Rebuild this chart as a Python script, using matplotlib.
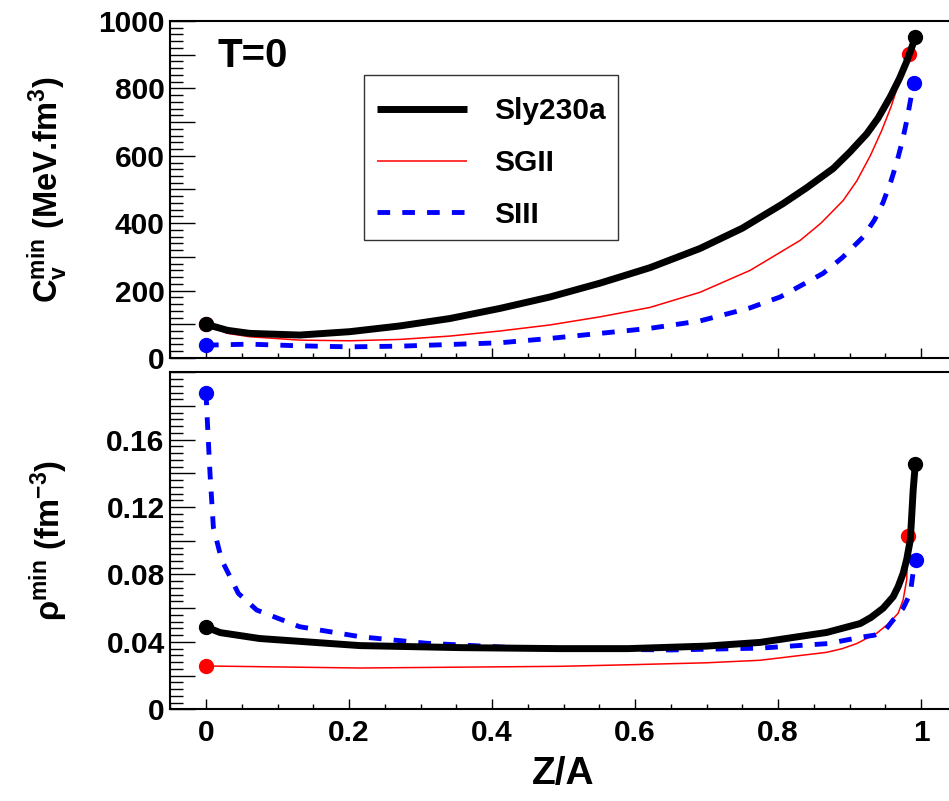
# -*- coding: utf-8 -*-
"""T=0 : C_v^min 과 rho^min 을 Z/A 에 대해 그린 두 단 그림 (Sly230a / SGII / SIII)."""
import matplotlib
matplotlib.use("Agg")
import matplotlib.pyplot as plt
from matplotlib.patches import Rectangle
from matplotlib.ticker import MultipleLocator, FuncFormatter

plt.rcParams["font.family"] = ["Liberation Sans", "DejaVu Sans"]
plt.rcParams["font.weight"] = "bold"
plt.rcParams["mathtext.fontset"] = "custom"
plt.rcParams["mathtext.rm"] = "Liberation Sans"
plt.rcParams["mathtext.it"] = "Liberation Sans:bold"
plt.rcParams["mathtext.bf"] = "Liberation Sans:bold"

# ---- 위 패널: C_v^min (MeV.fm^3) ----
cv_x_sly = [0.0, 0.03, 0.061, 0.131, 0.201, 0.271, 0.341, 0.411, 0.481, 0.551,
            0.621, 0.691, 0.75, 0.807, 0.84, 0.877, 0.90, 0.924, 0.94, 0.957,
            0.97, 0.98, 0.992]
cv_sly = [100, 82, 73, 68, 78, 95, 117, 147, 181, 222,
          268, 325, 385, 458, 505, 562, 610, 665, 712, 775,
          830, 880, 951]

cv_x_sgii = [0.0, 0.03, 0.061, 0.131, 0.201, 0.271, 0.341, 0.411, 0.481, 0.551,
             0.621, 0.691, 0.761, 0.831, 0.86, 0.891, 0.91, 0.929, 0.945, 0.958,
             0.971, 0.983]
cv_sgii = [100, 73, 63, 53, 51, 55, 65, 80, 98, 122,
           150, 195, 260, 349, 400, 467, 525, 600, 675, 745,
           830, 903]

cv_x_siii = [0.0, 0.061, 0.131, 0.201, 0.271, 0.341, 0.411, 0.481, 0.551, 0.621,
             0.691, 0.76, 0.803, 0.863, 0.89, 0.919, 0.935, 0.947, 0.958, 0.966,
             0.974, 0.980, 0.987, 0.990]
cv_siii = [38, 41, 36, 33, 35, 40, 45, 58, 73, 88,
           110, 148, 181, 251, 298, 359, 410, 462, 525, 580,
           645, 704, 785, 817]

# ---- 아래 패널: rho^min (fm^-3) ----
rho_x_sly = [0.0, 0.02, 0.075, 0.215, 0.355, 0.495, 0.59, 0.70, 0.775, 0.868,
             0.915, 0.93, 0.947, 0.961, 0.968, 0.975, 0.98, 0.985, 0.987, 0.989,
             0.992]
rho_sly = [0.0488, 0.0455, 0.0420, 0.0378, 0.0366, 0.0360, 0.0360, 0.0375, 0.0397, 0.0456,
           0.0509, 0.0545, 0.0600, 0.0668, 0.0728, 0.0807, 0.089, 0.1005, 0.115, 0.1300,
           0.1456]

rho_x_sgii = [0.0, 0.215, 0.495, 0.589, 0.70, 0.775, 0.868, 0.89, 0.91, 0.938,
              0.955, 0.968, 0.975, 0.98, 0.982]
rho_sgii = [0.0257, 0.0245, 0.0255, 0.0264, 0.0276, 0.0291, 0.0338, 0.036, 0.039, 0.0451,
            0.051, 0.057, 0.065, 0.077, 0.1028]

rho_x_siii = [0.0, 0.002, 0.0056, 0.0103, 0.0219, 0.0452, 0.0709, 0.131, 0.215, 0.308,
              0.42, 0.53, 0.65, 0.775, 0.87, 0.915, 0.935, 0.95, 0.961, 0.975,
              0.985, 0.99, 0.993]
rho_siii = [0.188, 0.170, 0.140, 0.108, 0.0886, 0.0688, 0.0589, 0.049, 0.0431, 0.0392,
            0.0368, 0.0358, 0.0352, 0.0363, 0.0390, 0.0427, 0.044, 0.047, 0.053, 0.060,
            0.0688, 0.0846, 0.0885]

names = ["Sly230a", "SGII", "SIII"]

figure = plt.figure(figsize=(9.49, 8.01), dpi=100)
ax_top = figure.add_axes([0.1794, 0.5531, 0.8288, 0.4207])
ax_bot = figure.add_axes([0.1794, 0.1145, 0.8288, 0.4207])

styles = {
    "Sly230a": dict(color="black", lw=5.0, ls="-", z=2.4),
    "SGII": dict(color="red", lw=1.1, ls="-", z=2.0),
    "SIII": dict(color="blue", lw=3.5, ls=(0, (2.6, 2.5)), z=2.2),
}

panels = [
    (ax_top, {"Sly230a": (cv_x_sly, cv_sly), "SGII": (cv_x_sgii, cv_sgii), "SIII": (cv_x_siii, cv_siii)}),
    (ax_bot, {"Sly230a": (rho_x_sly, rho_sly), "SGII": (rho_x_sgii, rho_sgii), "SIII": (rho_x_siii, rho_siii)}),
]

for axes, series in panels:
    for name in ["SGII", "SIII", "Sly230a"]:
        xs, ys = series[name]
        st = styles[name]
        axes.plot(xs, ys, color=st["color"], lw=st["lw"], ls=st["ls"],
                  dash_capstyle="butt", solid_capstyle="butt", solid_joinstyle="round",
                  zorder=st["z"], label=name)
        # 양 끝점 동그라미
        axes.plot([xs[0], xs[-1]], [ys[0], ys[-1]], ls="none", marker="o",
                  markersize=10, color=st["color"], zorder=st["z"] + 0.05)

    axes.set_xlim(-0.05, 1.05)
    axes.xaxis.set_major_locator(MultipleLocator(0.2))
    axes.xaxis.set_minor_locator(MultipleLocator(0.05))
    axes.xaxis.set_major_formatter(FuncFormatter(lambda v, p: f"{v:g}"))
    axes.tick_params(axis="x", which="major", direction="in", length=7, width=1,
                     labelsize=21.5, pad=7, top=False)
    axes.tick_params(axis="x", which="minor", direction="in", length=3.6, width=1, top=False)
    axes.tick_params(axis="y", which="major", direction="in", length=18, width=1,
                     labelsize=21.5, pad=4, right=False)
    axes.tick_params(axis="y", which="minor", direction="in", length=9, width=1, right=False)
    for spine in axes.spines.values():
        spine.set_linewidth(1.5)

# 위 패널 축
ax_top.set_ylim(0, 1000)
ax_top.yaxis.set_major_locator(MultipleLocator(100))
ax_top.yaxis.set_minor_locator(MultipleLocator(20))
ax_top.yaxis.set_major_formatter(
    FuncFormatter(lambda v, p: f"{v:g}" if round(v) % 200 == 0 else ""))
ax_top.tick_params(axis="x", labelbottom=False)
ax_top.set_ylabel(r"$\mathbf{C_{v}^{min}}$ (MeV.fm$^{\mathbf{3}}$)", fontsize=23.5,
                  fontweight="bold")
ax_top.yaxis.set_label_coords(-0.128, 0.5)

ax_top.text(0.0607, 0.8635, "T=0", transform=ax_top.transAxes,
            fontsize=29, fontweight="bold", va="baseline")

# 범례: 테두리는 따로 그려서 ROOT 범례 상자 크기에 맞춘다
handles, labels = ax_top.get_legend_handles_labels()
order = [labels.index(n) for n in names]
ax_top.legend([handles[i] for i in order], names,
              loc="upper left", bbox_to_anchor=(0.2463, 0.8131), borderaxespad=0,
              prop={"weight": "bold", "size": 21.5}, handlelength=3.0,
              handletextpad=0.9, borderpad=0.45, labelspacing=0.79, frameon=False)
ax_top.add_patch(Rectangle((0.2463, 0.3501), 0.3230, 0.4896, transform=ax_top.transAxes,
                           facecolor="none", edgecolor="#333333", lw=1.0, zorder=5))

# 아래 패널 축
ax_bot.set_ylim(0, 0.2)
ax_bot.yaxis.set_major_locator(MultipleLocator(0.02))
ax_bot.yaxis.set_minor_locator(MultipleLocator(0.004))
ax_bot.yaxis.set_major_formatter(
    FuncFormatter(lambda v, p: f"{v:g}" if round(v / 0.02) % 2 == 0 and v < 0.19 else ""))
ax_bot.set_ylabel(r"$\mathrm{\rho}^{\mathbf{min}}\ \mathbf{(fm^{-3})}$", fontsize=23.5)
ax_bot.yaxis.set_label_coords(-0.128, 0.5)
ax_bot.set_xlabel("Z/A", fontsize=28, fontweight="bold")
ax_bot.xaxis.set_label_coords(0.5, -0.14)

figure.savefig("out.png", dpi=100)
